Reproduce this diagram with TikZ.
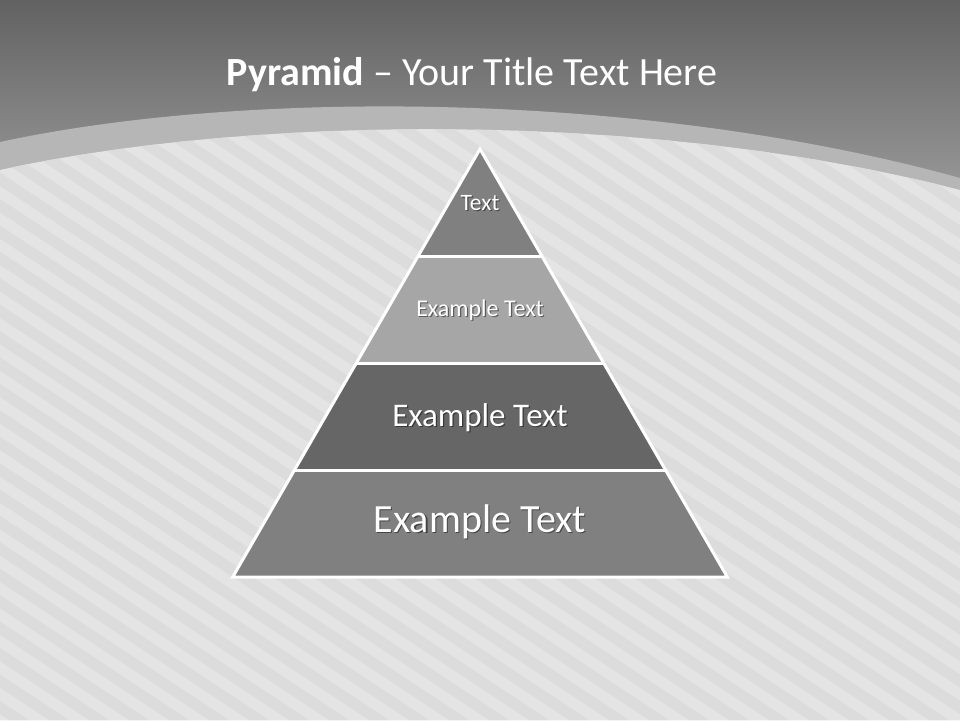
\documentclass[tikz,border=0pt]{standalone}
\usepackage{fontspec}
\setmainfont{Carlito}
\usetikzlibrary{calc}
\definecolor{hdrtop}{HTML}{626262}
\definecolor{hdrbot}{HTML}{9A9A9A}
\definecolor{bandc}{HTML}{B6B6B6}
\definecolor{bgc}{HTML}{E4E4E4}
\definecolor{stripec}{HTML}{DCDCDC}
\definecolor{layA}{HTML}{808080}
\definecolor{layB}{HTML}{A6A6A6}
\definecolor{layC}{HTML}{666666}
\tikzset{
  layer/.style={draw=white, line width=3pt, line join=miter},
  lbl/.style={text=white, anchor=base, inner sep=0pt},
  lblshadow/.style={text=black, opacity=0.45, anchor=base, inner sep=0pt},
}
\newcommand{\shtext}[4]{% name, position, size, text
  \node[lblshadow, font=\fontsize{#3}{#3}\selectfont] at ($(#2)+(1.2,1.4)$) {#4};
  \node[lbl, font=\fontsize{#3}{#3}\selectfont] (#1) at (#2) {#4};
}
\begin{document}
\begin{tikzpicture}[x=1pt,y=-1pt]
\useasboundingbox (0,0) rectangle (960,720);
% header gradient
\shade[top color=hdrtop, bottom color=hdrbot] (0,0) rectangle (960,200);
% band
\fill[bandc] (0,142) .. controls (250,88) and (650,92) .. (960,178) -- (960,720) -- (0,720) -- cycle;
% main background with stripes
\begin{scope}
  \clip (0,170) .. controls (250,115) and (650,110) .. (960,190) -- (960,720) -- (0,720) -- cycle;
  \fill[bgc] (0,100) rectangle (960,720);
  \foreach \c in {-1200,-1160,...,1000} {
    \draw[stripec, line width=11pt] (\c,100) -- ++(1030,680);
  }
\end{scope}
% title
\node[anchor=base, text=white, inner sep=0pt, font=\fontsize{40}{40}\selectfont] (title) at (472,85)
  {\textbf{Pyramid} – Your Title Text Here};
% pyramid layers
\coordinate (apex) at (480,149);
\fill[layA] (apex) -- (541.8,256) -- (418.2,256) -- cycle;
\fill[layB] (418.2,256) -- (541.8,256) -- (603.6,363) -- (356.4,363) -- cycle;
\fill[layC] (356.4,363) -- (603.6,363) -- (665.4,470) -- (294.6,470) -- cycle;
\fill[layA] (294.6,470) -- (665.4,470) -- (727.3,577) -- (232.7,577) -- cycle;
\draw[layer] (apex) -- (727.3,577) -- (232.7,577) -- cycle;
\draw[layer] (418.2,256) -- (541.8,256);
\draw[layer] (356.4,363) -- (603.6,363);
\draw[layer] (294.6,470) -- (665.4,470);
% labels
\shtext{t1}{480,210}{23.5}{Text}
\shtext{t2}{480,316}{24}{Example Text}
\shtext{t3}{480,426}{33}{Example Text}
\shtext{t4}{480,532}{40}{Example Text}
\end{tikzpicture}
\end{document}
